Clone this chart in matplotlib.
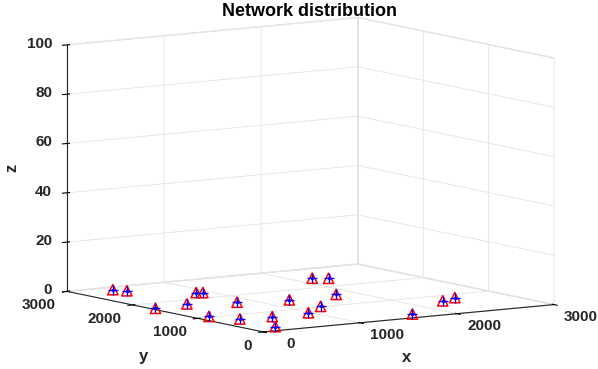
import numpy as np
import matplotlib
matplotlib.use('Agg')
from matplotlib import pyplot as plt
from mpl_toolkits.mplot3d import proj3d

plt.rcParams['font.family'] = 'Liberation Sans'
plt.rcParams['font.weight'] = 'bold'
plt.rcParams['grid.color'] = '#e3e3e3'
plt.rcParams['grid.linewidth'] = 0.6
plt.rcParams['axes.edgecolor'] = '#262626'

# node positions (z = 0 for all)
node_x = [383, 445, 44, 876, 922, 419, 145, 832, 278, 591,
          266, 1285, 977, 1282, 1804, 2192, 2304, 1671, 2339, 2536]
node_y = [2869, 2746, 1714, 2325, 2291, 1789, 1046, 1635, 770, 738,
          210, 1506, 758, 1024, 1559, 2501, 2417, 196, 722, 829]
node_z = [0] * len(node_x)

x_ticks = [0, 1000, 2000, 3000]
y_ticks = [0, 1000, 2000, 3000]
z_ticks = [0, 20, 40, 60, 80, 100]

W, H = 598, 369
fig = plt.figure(figsize=(W / 100, H / 100), dpi=100)
ax = fig.add_axes([0.011, 0.013, 1.0, 1.0], projection='3d', proj_type='ortho')
ax.view_init(elev=8, azim=-124)
ax.set_box_aspect((1, 1, 0.71), zoom=1.46)

tri = ax.scatter(node_x, node_y, node_z, marker='^', s=55, facecolors='none',
                 edgecolors='red', linewidths=1.1, depthshade=False)
plus = ax.scatter(node_x, node_y, node_z, marker='+', s=50, color='blue',
                  linewidths=1.0, depthshade=False)
dot = ax.scatter(node_x, node_y, node_z, marker='.', s=8, color='blue',
                 depthshade=False)
for c in (tri, plus, dot):
    c.set_clip_on(False)

ax.set_xlim(0, 3000)
ax.set_ylim(0, 3000)
ax.set_zlim(0, 100)
ax.set_xticks(x_ticks)
ax.set_yticks(y_ticks)
ax.set_zticks(z_ticks)

for a in (ax.xaxis, ax.yaxis, ax.zaxis):
    a.set_tick_params(labelbottom=False, labeltop=False)
    a.label.set_visible(False)
    a.offsetText.set_visible(False)
    a.set_pane_color((1, 1, 1, 1))
    a.pane.set_edgecolor('#e3e3e3')
    a.line.set_color('#262626')
    a.line.set_linewidth(0.8)

fig.canvas.draw()


def put(x, y, z, s, dx, dy, ha):
    # project a 3D point to pixels, then place a plain figure text
    px, py, _ = proj3d.proj_transform(x, y, z, ax.get_proj())
    X, Y = ax.transData.transform((px, py))
    fig.text((X + dx) / W, (Y + dy) / H, s, ha=ha, va='center',
             fontsize=11, fontweight='bold', color='#262626')


# tick labels placed MATLAB-style, offset in pixels from each tick
for v in x_ticks:
    put(v, 0, 0, str(v), 27, -12, 'center')
for v in y_ticks:
    put(0, v, 0, str(v), -11, -14, 'right')
for v in z_ticks:
    put(0, 3000, v, str(v), -15, 1, 'right')

fig.text(12 / W, 1 - 168 / H, 'z', rotation=90, ha='center', va='center',
         fontsize=12, fontweight='bold', color='#262626')
fig.text(143 / W, 1 - 356 / H, 'y', ha='center', va='center',
         fontsize=12, fontweight='bold', color='#262626')
fig.text(407 / W, 1 - 358 / H, 'x', ha='center', va='center',
         fontsize=12, fontweight='bold', color='#262626')
fig.text(309 / W, 1 - 11 / H, 'Network distribution', ha='center',
         va='center', fontsize=13, fontweight='bold')

fig.savefig('out.png', dpi=100)
